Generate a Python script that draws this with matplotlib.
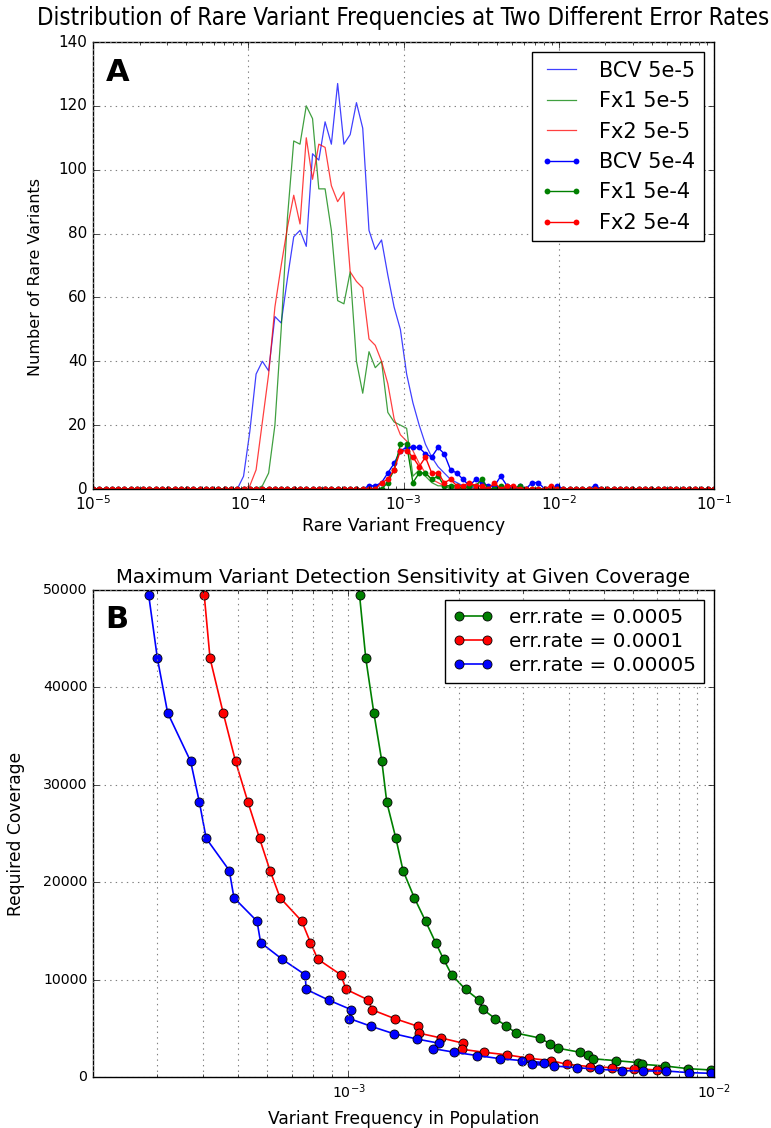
import numpy as np
import matplotlib
matplotlib.use('Agg')
import matplotlib.pyplot as plt
from matplotlib.ticker import NullFormatter, MultipleLocator

plt.style.use('classic')
plt.rcParams['figure.facecolor'] = 'white'
plt.rcParams['savefig.facecolor'] = 'white'
plt.rcParams['mathtext.fontset'] = 'dejavusans'
plt.rcParams['font.family'] = ['DejaVu Sans']

# ---------------- panel A: histogram counts, 100 log bins 1e-5..1e-1 ----------------
n_bins = 100
freq_bins = np.logspace(-5, -1, n_bins)

def pad(start, counts):
    # counts are read bin by bin starting at bin index `start`, zero elsewhere
    full = np.zeros(n_bins)
    full[start:start + len(counts)] = counts
    return full

bcv_5e5 = pad(23, [0, 4, 18, 36, 40, 37, 54, 52, 66, 79, 81, 76, 105, 103, 115, 108,
                   127, 108, 111, 121, 113, 81, 75, 78, 67, 57, 50, 36, 27, 20, 14, 10,
                   7, 5, 3, 2, 1, 1])
fx1_5e5 = pad(26, [0, 1, 5, 20, 50, 85, 109, 108, 120, 116, 94, 94, 81, 59, 58, 68,
                   40, 30, 43, 38, 40, 24, 21, 20, 19, 4, 6, 4, 2, 1, 1])
fx2_5e5 = pad(24, [0, 1, 6, 21, 36, 57, 70, 82, 92, 83, 110, 97, 108, 107, 95, 90,
                   93, 68, 65, 63, 47, 45, 40, 33, 22, 17, 15, 12, 8, 5, 3, 2, 1, 1])
bcv_5e4 = pad(44, [1, 1, 2, 5, 8, 12, 13, 13, 13, 11, 10, 13, 11, 6, 5, 3, 1, 3, 2, 1,
                   1, 4, 1, 0, 1, 0, 2, 2, 0, 0, 1, 0, 0, 0, 0, 0, 1])
fx1_5e4 = pad(46, [0, 2, 6, 14, 14, 2, 5, 5, 3, 4, 1, 1, 1, 0, 1, 1, 3, 0, 0, 1, 0, 0, 1])
fx2_5e4 = pad(46, [2, 3, 6, 12, 12, 10, 7, 10, 5, 5, 2, 3, 1, 1, 2, 1, 1, 0, 2, 0, 1, 1,
                   0, 0, 0, 0, 0, 1])

labels_a = ['BCV 5e-5', 'Fx1 5e-5', 'Fx2 5e-5', 'BCV 5e-4', 'Fx1 5e-4', 'Fx2 5e-4']

# ---------------- panel B: required coverage vs detectable frequency ----------------
freq_00005 = [2.84e-4, 3.00e-4, 3.20e-4, 3.70e-4, 3.91e-4, 4.08e-4, 4.72e-4, 4.86e-4,
              5.62e-4, 5.75e-4, 6.58e-4, 7.61e-4, 7.66e-4, 8.82e-4, 1.019e-3, 1.006e-3,
              1.154e-3, 1.328e-3, 1.539e-3, 1.768e-3, 1.70e-3, 1.95e-3, 2.25e-3, 2.59e-3,
              2.99e-3, 3.43e-3, 3.18e-3, 3.65e-3, 4.21e-3, 4.84e-3, 5.59e-3, 6.40e-3,
              7.38e-3, 8.53e-3, 9.80e-3]
cov_00005 = [49500, 43000, 37400, 32400, 28200, 24500, 21200, 18400, 16000, 13800, 12100,
             10500, 9000, 7900, 6900, 6000, 5200, 4450, 3900, 3470, 2920, 2540, 2200, 1890,
             1680, 1480, 1300, 1130, 960, 790, 650, 620, 620, 450, 380]

freq_0001 = [4.03e-4, 4.18e-4, 4.54e-4, 4.91e-4, 5.31e-4, 5.71e-4, 6.10e-4, 6.50e-4,
             7.45e-4, 7.87e-4, 8.24e-4, 9.53e-4, 9.85e-4, 1.134e-3, 1.16e-3, 1.337e-3,
             1.55e-3, 1.56e-3, 1.795e-3, 2.06e-3, 2.04e-3, 2.35e-3, 2.72e-3, 3.12e-3,
             3.59e-3, 3.96e-3, 4.57e-3, 5.25e-3, 6.05e-3, 6.97e-3]
cov_0001 = [49500, 43000, 37400, 32400, 28200, 24500, 21200, 18400, 16000, 13800, 12100,
            10500, 9000, 7900, 6900, 6000, 5200, 4500, 4000, 3470, 2850, 2540, 2270, 1920,
            1680, 1300, 1070, 960, 860, 720]

freq_0005 = [1.072e-3, 1.115e-3, 1.173e-3, 1.234e-3, 1.273e-3, 1.348e-3, 1.41e-3, 1.514e-3,
             1.625e-3, 1.731e-3, 1.82e-3, 1.915e-3, 2.09e-3, 2.275e-3, 2.33e-3, 2.52e-3,
             2.70e-3, 2.88e-3, 3.34e-3, 3.56e-3, 3.75e-3, 4.30e-3, 4.53e-3, 4.67e-3,
             5.39e-3, 6.20e-3, 6.37e-3, 7.34e-3, 8.48e-3, 9.80e-3]
cov_0005 = [49500, 43000, 37400, 32400, 28200, 24500, 21200, 18400, 16000, 13800, 12100,
            10500, 9000, 7900, 6950, 6000, 5250, 4500, 4000, 3420, 2950, 2540, 2270, 1870,
            1680, 1480, 1300, 1130, 860, 720]

W, H = 771, 1128
fig = plt.figure(figsize=(W / 100.0, H / 100.0), dpi=100)

def box(l, t, r, b):
    return [l / W, 1 - b / H, (r - l) / W, (b - t) / H]

# ---- A ----
axA = fig.add_axes(box(93, 42, 714, 489))
axA.plot(freq_bins, bcv_5e5, '-', color='b', lw=0.9, alpha=0.75, label=labels_a[0])
axA.plot(freq_bins, fx1_5e5, '-', color='g', lw=0.9, alpha=0.75, label=labels_a[1])
axA.plot(freq_bins, fx2_5e5, '-', color='r', lw=0.9, alpha=0.75, label=labels_a[2])
axA.plot(freq_bins, bcv_5e4, '-o', color='b', lw=1.0, ms=4.2, mec='b', mew=0, label=labels_a[3])
axA.plot(freq_bins, fx1_5e4, '-o', color='g', lw=1.0, ms=4.2, mec='g', mew=0, label=labels_a[4])
axA.plot(freq_bins, fx2_5e4, '-o', color='r', lw=1.0, ms=4.2, mec='r', mew=0, label=labels_a[5])
axA.set_xscale('log')
axA.set_xlim(1e-5, 1e-1)
axA.set_ylim(0, 140)
axA.yaxis.set_major_locator(MultipleLocator(20))
axA.grid(True, which='major', linestyle=':', color='0.5', lw=0.8)
axA.tick_params(labelsize=11)
axA.set_xlabel('Rare Variant Frequency', fontsize=12.5)
axA.set_ylabel('Number of Rare Variants', fontsize=11.5)
axA.xaxis.set_label_coords(0.5, -0.062)
axA.yaxis.set_label_coords(-0.08, 0.475)
axA.set_title('Distribution of Rare Variant Frequencies at Two Different Error Rates',
              fontsize=17.2, fontstretch='condensed', pad=12)
axA.legend(loc='upper right', fontsize=15, numpoints=2, fancybox=False)
axA.text(0.02, 0.965, 'A', transform=axA.transAxes, fontsize=22, fontweight='bold',
         va='top', ha='left')

# ---- B ----
axB = fig.add_axes(box(93, 590, 714, 1077))
axB.plot(freq_0005, cov_0005, '-o', color='g', lw=1.2, ms=6.5, mew=0.6,
         label='err.rate = 0.0005')
axB.plot(freq_0001, cov_0001, '-o', color='r', lw=1.2, ms=6.5, mew=0.6,
         label='err.rate = 0.0001')
axB.plot(freq_00005, cov_00005, '-o', color='b', lw=1.2, ms=6.5, mew=0.6,
         label='err.rate = 0.00005')
axB.set_xscale('log')
axB.set_xlim(2e-4, 1e-2)
axB.set_ylim(0, 50000)
axB.yaxis.set_major_locator(MultipleLocator(10000))
axB.xaxis.set_minor_formatter(NullFormatter())
axB.grid(True, which='both', axis='x', linestyle=':', color='0.5', lw=0.8)
axB.grid(True, which='major', axis='y', linestyle=':', color='0.5', lw=0.8)
axB.tick_params(labelsize=10.2)
axB.set_xlabel('Variant Frequency in Population', fontsize=12.3)
axB.set_ylabel('Required Coverage', fontsize=12.3)
axB.xaxis.set_label_coords(0.5, -0.068)
axB.yaxis.set_label_coords(-0.11, 0.5)
axB.set_title('Maximum Variant Detection Sensitivity at Given Coverage', fontsize=14.2, pad=5)
axB.legend(loc='upper right', fontsize=14.4, numpoints=2, fancybox=False, labelspacing=0.25)
axB.text(0.02, 0.97, 'B', transform=axB.transAxes, fontsize=22, fontweight='bold',
         va='top', ha='left')

fig.savefig('out.png', dpi=100)
